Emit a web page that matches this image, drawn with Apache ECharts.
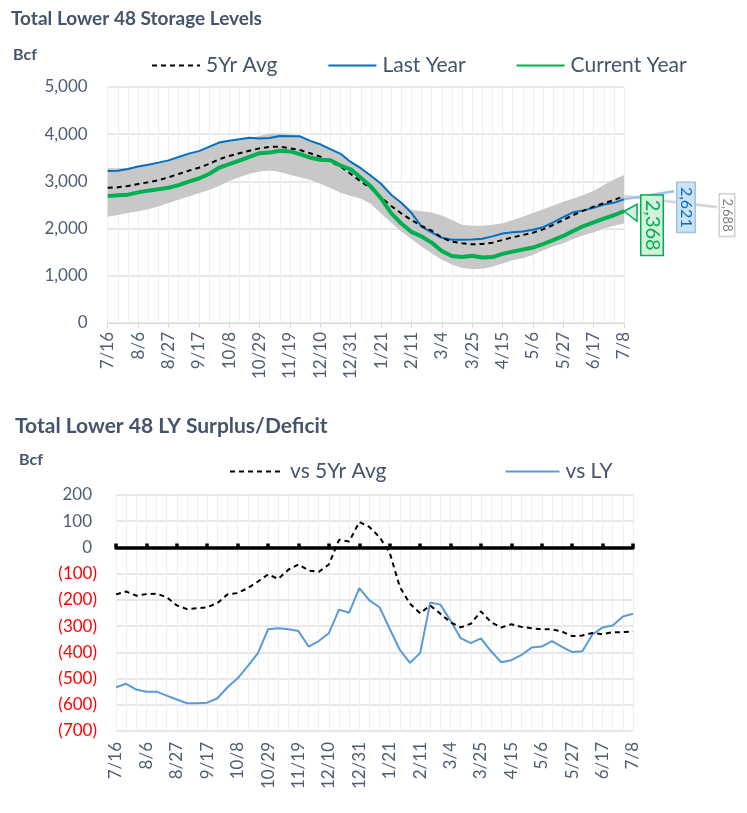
<!DOCTYPE html>
<html><head><meta charset="utf-8">
<script src="https://cdn.jsdelivr.net/npm/echarts@6/dist/echarts.min.js"></script>
<style>html,body{margin:0;padding:0;background:#fff}#c{width:747px;height:813px}</style>
</head><body><div id="c"></div>
<script>
const weeks = ['7/16','7/23','7/30','8/6','8/13','8/20','8/27','9/3','9/10','9/17','9/24','10/1','10/8','10/15','10/22','10/29','11/5','11/12','11/19','11/26','12/3','12/10','12/17','12/24','12/31','1/7','1/14','1/21','1/28','2/4','2/11','2/18','2/25','3/4','3/11','3/18','3/25','4/1','4/8','4/15','4/22','4/29','5/6','5/13','5/20','5/27','6/3','6/10','6/17','6/24','7/1','7/8'];

const avg5yr = [2867,2874,2903,2945,2980,3023,3086,3157,3227,3290,3369,3468,3538,3595,3651,3700,3730,3736,3700,3665,3595,3524,3418,3312,3160,3000,2853,2660,2479,2323,2182,2055,1956,1810,1723,1688,1667,1674,1702,1758,1815,1864,1911,1984,2076,2182,2288,2380,2465,2535,2606,2688];

const lastYear = [3221,3226,3261,3317,3354,3398,3445,3516,3589,3641,3732,3822,3863,3893,3924,3909,3918,3963,3954,3955,3859,3786,3684,3584,3412,3280,3120,2950,2719,2548,2334,2044,1921,1804,1764,1762,1770,1785,1835,1895,1922,1938,1977,2029,2134,2243,2348,2386,2439,2510,2546,2621];

const currentYear = [2688,2706,2719,2767,2804,2833,2865,2922,2995,3062,3157,3289,3364,3440,3521,3597,3610,3651,3635,3577,3502,3459,3447,3335,3257,3078,2892,2640,2328,2108,1931,1834,1703,1525,1418,1397,1423,1389,1397,1465,1512,1556,1599,1672,1755,1844,1952,2054,2134,2212,2283,2368];

const rangeLow = [2253,2290,2330,2370,2410,2470,2540,2610,2680,2750,2820,2900,3010,3090,3160,3210,3230,3200,3140,3090,3030,2950,2860,2760,2690,2640,2520,2320,2130,1940,1780,1620,1480,1340,1240,1165,1145,1150,1190,1260,1330,1370,1440,1540,1620,1690,1780,1860,1920,2000,2060,2110];

const rangeHigh = [3280,3280,3285,3320,3354,3398,3445,3516,3589,3641,3732,3822,3863,3893,3924,3960,4010,4020,4000,3960,3870,3790,3690,3590,3420,3290,3130,2960,2730,2560,2400,2370,2340,2280,2182,2080,2062,2062,2080,2111,2180,2253,2330,2408,2490,2571,2640,2712,2800,2924,3040,3136];

const vs5yr = [-179,-168,-184,-178,-176,-190,-221,-235,-232,-228,-212,-179,-174,-155,-130,-103,-120,-85,-65,-88,-93,-65,29,23,97,78,39,-20,-151,-215,-251,-221,-253,-285,-305,-291,-244,-285,-305,-293,-303,-308,-312,-312,-321,-338,-336,-326,-331,-323,-323,-320];

const vsLY = [-533,-520,-542,-550,-550,-565,-580,-594,-594,-592,-575,-533,-499,-453,-403,-312,-308,-312,-319,-378,-357,-327,-237,-249,-155,-202,-228,-310,-391,-440,-403,-210,-218,-279,-346,-365,-347,-396,-438,-430,-410,-382,-378,-357,-379,-399,-396,-332,-305,-298,-263,-253];

const FONT = 'Lato';
const TXT = '#44546A';
const LBL = '#4F5D73';
const HGRID = '#dcdfe4';
const VGRID = '#eceef1';

const fmtComma = v => String(v).replace(/\B(?=(\d{3})+(?!\d))/g, ',');

const chart = echarts.init(document.getElementById('c'), null, {renderer: 'canvas'});

const bandRange = rangeHigh.map((h, i) => h - rangeLow[i]);

const legendItemStyle = {color: 'rgba(0,0,0,0)', borderWidth: 0, opacity: 0};

const option = {
  animation: false,
  textStyle: {fontFamily: FONT},
  title: [
    {text: 'Total Lower 48 Storage Levels', left: 6, top: 4, textStyle: {fontFamily: FONT, fontSize: 19, fontWeight: 'bold', color: TXT}},
    {text: 'Bcf', left: 8, top: 42, textStyle: {fontFamily: FONT, fontSize: 16, fontWeight: 'bold', color: TXT}},
    {text: 'Total Lower 48 LY Surplus/Deficit', left: 10, top: 411, textStyle: {fontFamily: FONT, fontSize: 21, fontWeight: 'bold', color: TXT}},
    {text: 'Bcf', left: 14, top: 447, textStyle: {fontFamily: FONT, fontSize: 16, fontWeight: 'bold', color: TXT}}
  ],
  legend: [
    {
      data: ['5Yr Avg', 'Last Year', 'Current Year'],
      left: 146, top: 50,
      itemWidth: 48, itemHeight: 14, itemGap: 50,
      itemStyle: legendItemStyle,
      textStyle: {fontFamily: FONT, fontSize: 21, color: TXT, padding: [0, 0, 0, 1]}
    },
    {
      data: ['vs 5Yr Avg', 'vs LY'],
      left: 224, top: 456,
      itemWidth: 54, itemHeight: 14, itemGap: 118,
      itemStyle: legendItemStyle,
      textStyle: {fontFamily: FONT, fontSize: 21, color: TXT, padding: [0, 0, 0, 1]}
    }
  ],
  grid: [
    {left: 107.7, right: 123, top: 87, bottom: 490},
    {left: 116, right: 114, top: 495, bottom: 82}
  ],
  xAxis: [
    {
      gridIndex: 0, type: 'category', data: weeks, boundaryGap: false,
      axisLine: {lineStyle: {color: '#d9d9d9', width: 1}},
      axisTick: {interval: 2, length: 5, lineStyle: {color: '#d9d9d9'}},
      axisLabel: {interval: 2, rotate: 90, margin: 9, fontFamily: FONT, fontSize: 17, color: LBL},
      splitLine: {show: true, interval: 0, lineStyle: {color: VGRID, width: 1}}
    },
    {
      gridIndex: 1, type: 'category', data: weeks, boundaryGap: false,
      position: 'bottom', axisLine: {show: false, onZero: false}, axisTick: {show: false},
      axisLabel: {interval: 2, rotate: 90, margin: 11, fontFamily: FONT, fontSize: 17, color: LBL},
      splitLine: {show: true, interval: 0, lineStyle: {color: VGRID, width: 1}}
    },
    {
      gridIndex: 1, type: 'category', data: weeks, boundaryGap: false,
      axisLine: {show: true, onZero: true, lineStyle: {color: '#000', width: 3.5}},
      axisTick: {show: true, interval: 2, length: 4, lineStyle: {color: '#000', width: 3.5}},
      axisLabel: {show: false},
      splitLine: {show: false}
    }
  ],
  yAxis: [
    {
      gridIndex: 0, type: 'value', min: 0, max: 5000, interval: 1000,
      axisLine: {show: false}, axisTick: {show: false},
      axisLabel: {margin: 20, fontFamily: FONT, fontSize: 17, color: LBL, formatter: v => fmtComma(v)},
      splitLine: {lineStyle: {color: HGRID, width: 1.5}}
    },
    {
      gridIndex: 1, type: 'value', min: -700, max: 200, interval: 100,
      axisLine: {show: false}, axisTick: {show: false},
      axisLabel: {
        margin: 19, fontFamily: FONT, fontSize: 17,
        formatter: v => v < 0 ? '{n|(' + Math.abs(v) + ')}' : '{p|' + v + '}',
        rich: {
          n: {color: '#FF0000', fontFamily: FONT, fontSize: 17},
          p: {color: LBL, fontFamily: FONT, fontSize: 17, padding: [0, 5, 0, 0]}
        }
      },
      splitLine: {lineStyle: {color: HGRID, width: 1.5}}
    }
  ],
  series: [
    {
      name: 'rangeLow', type: 'line', xAxisIndex: 0, yAxisIndex: 0, stack: 'band',
      data: rangeLow, symbol: 'none', silent: true, lineStyle: {opacity: 0}, z: 1
    },
    {
      name: 'range', type: 'line', xAxisIndex: 0, yAxisIndex: 0, stack: 'band',
      data: bandRange, symbol: 'none', silent: true, lineStyle: {opacity: 0},
      areaStyle: {color: '#c8c8c8', opacity: 1}, z: 1
    },
    {
      name: 'Last Year', type: 'line', xAxisIndex: 0, yAxisIndex: 0,
      data: lastYear, symbol: 'none', lineStyle: {color: '#0070C0', width: 2}, itemStyle: {color: '#0070C0'}, z: 3
    },
    {
      name: '5Yr Avg', type: 'line', xAxisIndex: 0, yAxisIndex: 0,
      data: avg5yr, symbol: 'none', lineStyle: {color: '#000', width: 2, type: [5, 4]}, itemStyle: {color: '#000'}, z: 4
    },
    {
      name: 'Current Year', type: 'line', xAxisIndex: 0, yAxisIndex: 0,
      data: currentYear, symbol: 'none', lineStyle: {color: '#00B050', width: 4}, itemStyle: {color: '#00B050'}, z: 5
    },
    {
      name: 'vs 5Yr Avg', type: 'line', xAxisIndex: 1, yAxisIndex: 1,
      data: vs5yr, symbol: 'none', lineStyle: {color: '#000', width: 2, type: [5, 4]}, itemStyle: {color: '#000'}, z: 4
    },
    {
      name: 'vs LY', type: 'line', xAxisIndex: 1, yAxisIndex: 1,
      data: vsLY, symbol: 'none', lineStyle: {color: '#5B9BD5', width: 2}, itemStyle: {color: '#5B9BD5'}, z: 3
    }
  ]
};

chart.setOption(option);

const last = weeks.length - 1;
const pLY = chart.convertToPixel({xAxisIndex: 0, yAxisIndex: 0}, [last, lastYear[last]]);
const pCY = chart.convertToPixel({xAxisIndex: 0, yAxisIndex: 0}, [last, currentYear[last]]);
const p5 = chart.convertToPixel({xAxisIndex: 0, yAxisIndex: 0}, [last, avg5yr[last]]);

function boxText(cx, cy, txt, fill, bg, border, size, bw) {
  return {
    type: 'text', x: cx, y: cy, rotation: -Math.PI / 2, z: 20,
    style: {
      text: txt, fill: fill, font: size + 'px ' + FONT,
      align: 'center', verticalAlign: 'middle',
      backgroundColor: bg, borderColor: border, borderWidth: bw, padding: [1, 4, 0, 4]
    }
  };
}

chart.setOption({
  graphic: [
    {type: 'line', z: 15, shape: {x1: p5[0], y1: p5[1], x2: p5[0] + 93, y2: p5[1] + 11}, style: {stroke: '#d6d6d6', lineWidth: 3}},
    {type: 'line', z: 15, shape: {x1: pLY[0], y1: pLY[1], x2: pLY[0] + 50, y2: pLY[1] - 8}, style: {stroke: '#9DC3E6', lineWidth: 2.5}},
    {type: 'polygon', z: 16, shape: {points: [[pCY[0], pCY[1]], [pCY[0] + 13, pCY[1] - 7], [pCY[0] + 13, pCY[1] + 10]]}, style: {fill: '#d5f0dd', stroke: '#00B050', lineWidth: 1.5}},
    boxText(p5[0] + 103, p5[1] + 19, '2,688', '#7f7f7f', '#ffffff', '#d0d0d0', 13, 1.5),
    boxText(pLY[0] + 62, pLY[1] + 8, '2,621', '#0070C0', '#cfe2f3', '#9DC3E6', 16, 1.5),
    boxText(pCY[0] + 28, pCY[1] + 14, '2,368', '#00B050', '#d5f0dd', '#00B050', 20, 1.5)
  ]
});
</script>
</body></html>
